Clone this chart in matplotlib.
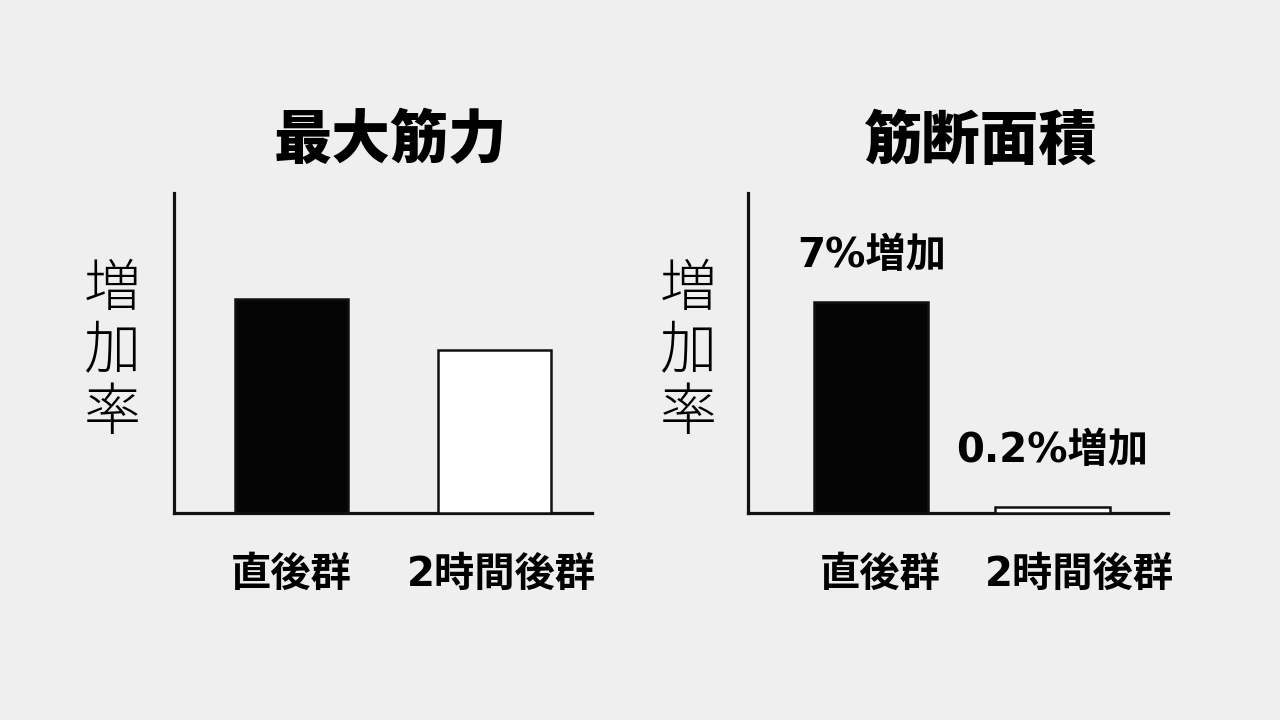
import matplotlib
matplotlib.use("Agg")
import matplotlib.pyplot as plt

plt.rcParams['font.family'] = ['Noto Sans CJK JP', 'DejaVu Sans']
latin_first = ['DejaVu Sans', 'Noto Sans CJK JP']

groups = ['直後群', '2時間後群']
titles = ['最大筋力', '筋断面積']
strength = [7.1, 5.4]          # schematic, no values shown
area = [7.0, 0.2]
area_labels = ['7%増加', '0.2%増加']
label_offsets = [1.5, 1.85]
bar_colors = ['#050505', '#ffffff']
ylabel = '増\n加\n率'

bg = '#efefef'
fig = plt.figure(figsize=(12.8, 7.2), dpi=100, facecolor=bg)

W, H = 1280, 720
def px_axes(x0, x1, ytop, ybot):
    return fig.add_axes([x0 / W, (H - ybot) / H, (x1 - x0) / W, (ybot - ytop) / H])

ax1 = px_axes(174, 592, 193, 513)
ax2 = px_axes(748, 1168, 193, 513)

# axes, values, xlim, bar width, tick shift, title x, ylabel x, bar labels
panels = [
    (ax1, strength, (-0.579, 1.48), 0.56, [0.0, 0.035], 390, 112, None),
    (ax2, area, (-0.682, 1.638), 0.63, [0.05, 0.15], 980, 688, area_labels),
]

for (ax, vals, xl, bw, shift, tx, lx, labels), title in zip(panels, titles):
    ax.set_facecolor(bg)
    ax.bar([0, 1], vals, width=bw, color=bar_colors, edgecolor='#111111',
           linewidth=1.8, zorder=3)
    ax.set_xlim(*xl)
    ax.set_ylim(0, 10.6)
    for s in ['top', 'right']:
        ax.spines[s].set_visible(False)
    for s in ['left', 'bottom']:
        ax.spines[s].set_linewidth(2.3)
        ax.spines[s].set_color('#111111')
    ax.set_yticks([])
    ax.set_xticks([0 + shift[0], 1 + shift[1]])
    ax.set_xticklabels(groups, fontsize=29, fontweight='bold', family=latin_first)
    ax.tick_params(axis='x', length=0, pad=30)
    if labels:
        for i, (v, t) in enumerate(zip(vals, labels)):
            ax.text(i, v + label_offsets[i], t, ha='center', va='center',
                    fontsize=29, fontweight='bold', family=latin_first, zorder=4)

    fig.text(tx / W, (H - 141) / H, title, ha='center', va='center',
             fontsize=42, fontweight='black')
    fig.text(lx / W, (H - 352) / H, ylabel, ha='center', va='center',
             fontsize=41, fontweight='light', linespacing=1.08)

fig.savefig('out.png', dpi=100, facecolor=bg)
